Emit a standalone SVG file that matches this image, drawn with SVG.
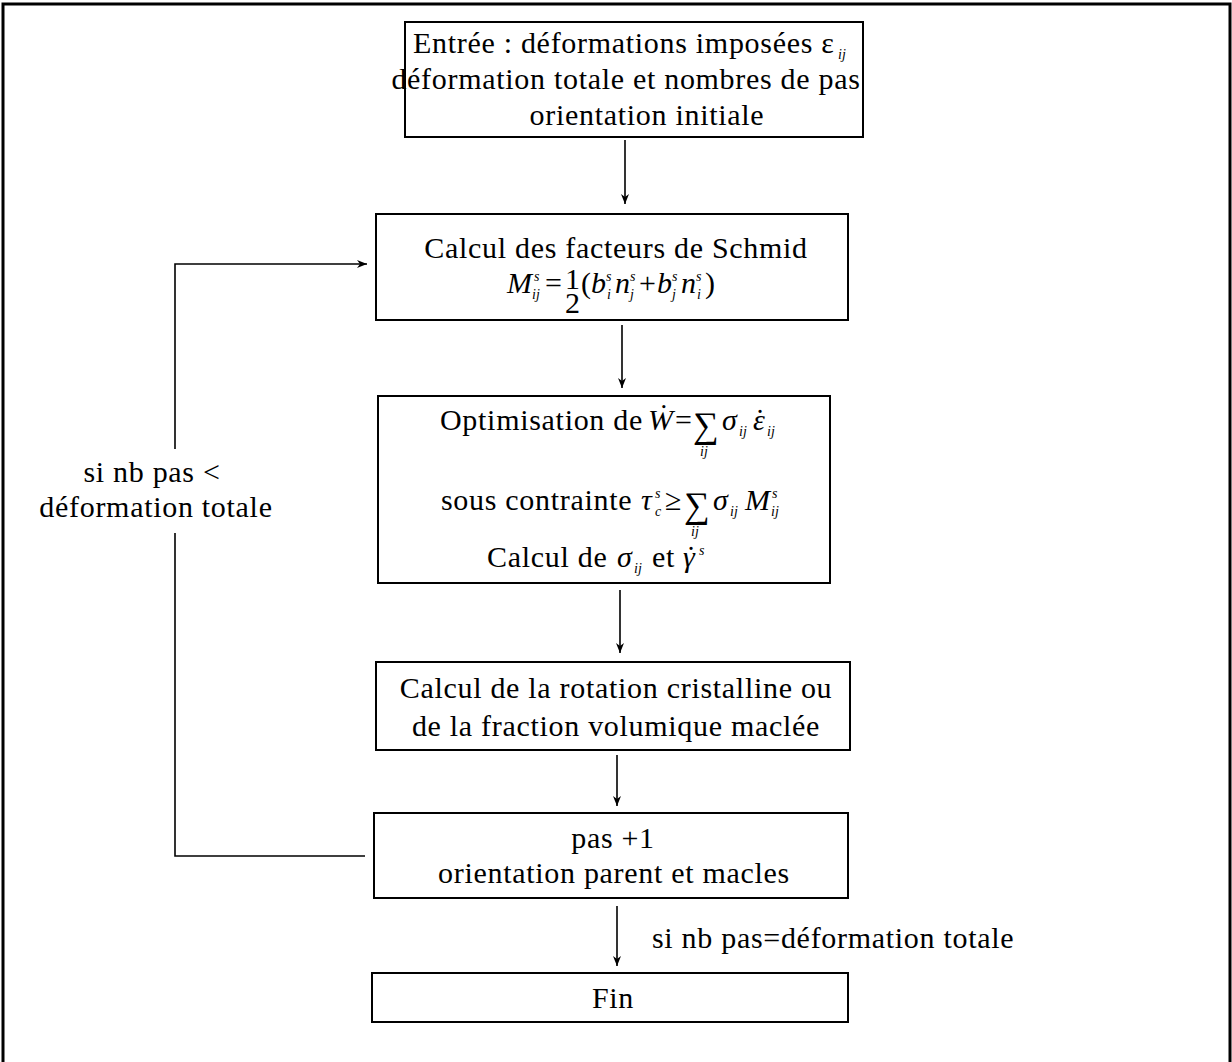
<svg xmlns="http://www.w3.org/2000/svg" width="1232" height="1062" viewBox="0 0 1232 1062">
<style>
.frame{fill:none;stroke:#000;stroke-width:3}
.box{fill:#fff;stroke:#000;stroke-width:2}
.t{font-family:"Liberation Serif","Times New Roman",serif;font-size:30px;fill:#000;letter-spacing:0.7px}
.c{text-anchor:middle}
.i{font-style:italic;letter-spacing:0}
.s{font-family:"Liberation Serif","Times New Roman",serif;font-size:14px;font-style:italic;fill:#000}
.big{font-family:"Liberation Serif","Times New Roman",serif;font-size:36px;fill:#000}
.ln{fill:none;stroke:#000;stroke-width:1.6}
</style>
<defs>
<marker id="ah" markerUnits="userSpaceOnUse" markerWidth="12" markerHeight="10" refX="10" refY="5" orient="auto">
<path d="M0,1 L10,5 L0,9 L3,5 z" fill="#000"/>
</marker>
</defs>
<rect class="frame" x="3" y="4" width="1227" height="1070"/>

<g id="connectors">
<path class="ln" d="M625,140 V204" marker-end="url(#ah)"/>
<path class="ln" d="M622,325 V388" marker-end="url(#ah)"/>
<path class="ln" d="M620,590 V653" marker-end="url(#ah)"/>
<path class="ln" d="M617,755 V806" marker-end="url(#ah)"/>
<path class="ln" d="M617,906 V966" marker-end="url(#ah)"/>
<path class="ln" d="M365,856 H175 V533"/>
<path class="ln" d="M175,449 V264 H367" marker-end="url(#ah)"/>
<text class="t c" x="152" y="482">si nb pas &lt;</text>
<text class="t c" x="156" y="517">déformation totale</text>
<text class="t" x="652" y="948">si nb pas=déformation totale</text>
</g>

<g id="n1">
<rect class="box" x="405" y="22" width="458" height="115"/>
<text class="t" x="413" y="53">Entrée : déformations imposées ε</text>
<text class="s" x="838" y="59">ij</text>
<text class="t c" x="626" y="89">déformation totale et nombres de pas</text>
<text class="t c" x="647" y="125">orientation initiale</text>
</g>

<g id="n2">
<rect class="box" x="376" y="214" width="472" height="106"/>
<text class="t c" x="616" y="258">Calcul des facteurs de Schmid</text>
<text class="t i" x="507" y="293">M</text>
<text class="s" x="534" y="281">s</text>
<text class="s" x="532" y="299">ij</text>
<text class="t" x="545" y="293">=</text>
<text class="t" x="565" y="289">1</text>
<text class="t" x="565" y="313">2</text>
<text class="t" x="581" y="293">(</text>
<text class="t i" x="591" y="293">b</text>
<text class="s" x="606" y="281">s</text>
<text class="s" x="607" y="299">i</text>
<text class="t i" x="615" y="293">n</text>
<text class="s" x="630" y="281">s</text>
<text class="s" x="630" y="299">j</text>
<text class="t" x="639" y="293">+</text>
<text class="t i" x="657" y="293">b</text>
<text class="s" x="672" y="281">s</text>
<text class="s" x="672" y="299">j</text>
<text class="t i" x="681" y="293">n</text>
<text class="s" x="696" y="281">s</text>
<text class="s" x="697" y="299">i</text>
<text class="t" x="705" y="293">)</text>
</g>

<g id="n3">
<rect class="box" x="378" y="396" width="452" height="187"/>
<text class="t" x="440" y="430">Optimisation de</text>
<text class="t i" x="648" y="430">Ẇ</text>
<text class="t" x="675" y="430">=</text>
<text class="big" x="693" y="437">∑</text>
<text class="s" x="700" y="456">ij</text>
<text class="t i" x="722" y="430">σ</text>
<text class="s" x="739" y="436">ij</text>
<text class="t i" x="753" y="430">ε</text>
<text class="t" x="755" y="430">˙</text>
<text class="s" x="767" y="436">ij</text>

<text class="t" x="441" y="510">sous contrainte</text>
<text class="t i" x="641" y="510">τ</text>
<text class="s" x="655" y="498">s</text>
<text class="s" x="655" y="516">c</text>
<text class="t" x="665" y="510">≥</text>
<text class="big" x="684" y="517">∑</text>
<text class="s" x="691" y="536">ij</text>
<text class="t i" x="713" y="510">σ</text>
<text class="s" x="730" y="516">ij</text>
<text class="t i" x="745" y="510">M</text>
<text class="s" x="772" y="498">s</text>
<text class="s" x="771" y="516">ij</text>

<text class="t" x="487" y="567">Calcul de</text>
<text class="t i" x="617" y="567">σ</text>
<text class="s" x="634" y="573">ij</text>
<text class="t" x="652" y="567">et</text>
<text class="t i" x="683" y="567">γ</text>
<text class="t" x="686" y="567">˙</text>
<text class="s" x="699" y="555">s</text>
</g>

<g id="n4">
<rect class="box" x="376" y="662" width="474" height="88"/>
<text class="t c" x="616" y="698">Calcul de la rotation cristalline ou</text>
<text class="t c" x="616" y="736">de la fraction volumique maclée</text>
</g>

<g id="n5">
<rect class="box" x="374" y="813" width="474" height="85"/>
<text class="t c" x="613" y="848">pas +1</text>
<text class="t c" x="614" y="883">orientation parent et macles</text>
</g>

<g id="n6">
<rect class="box" x="372" y="973" width="476" height="49"/>
<text class="t c" x="613" y="1008">Fin</text>
</g>
</svg>
